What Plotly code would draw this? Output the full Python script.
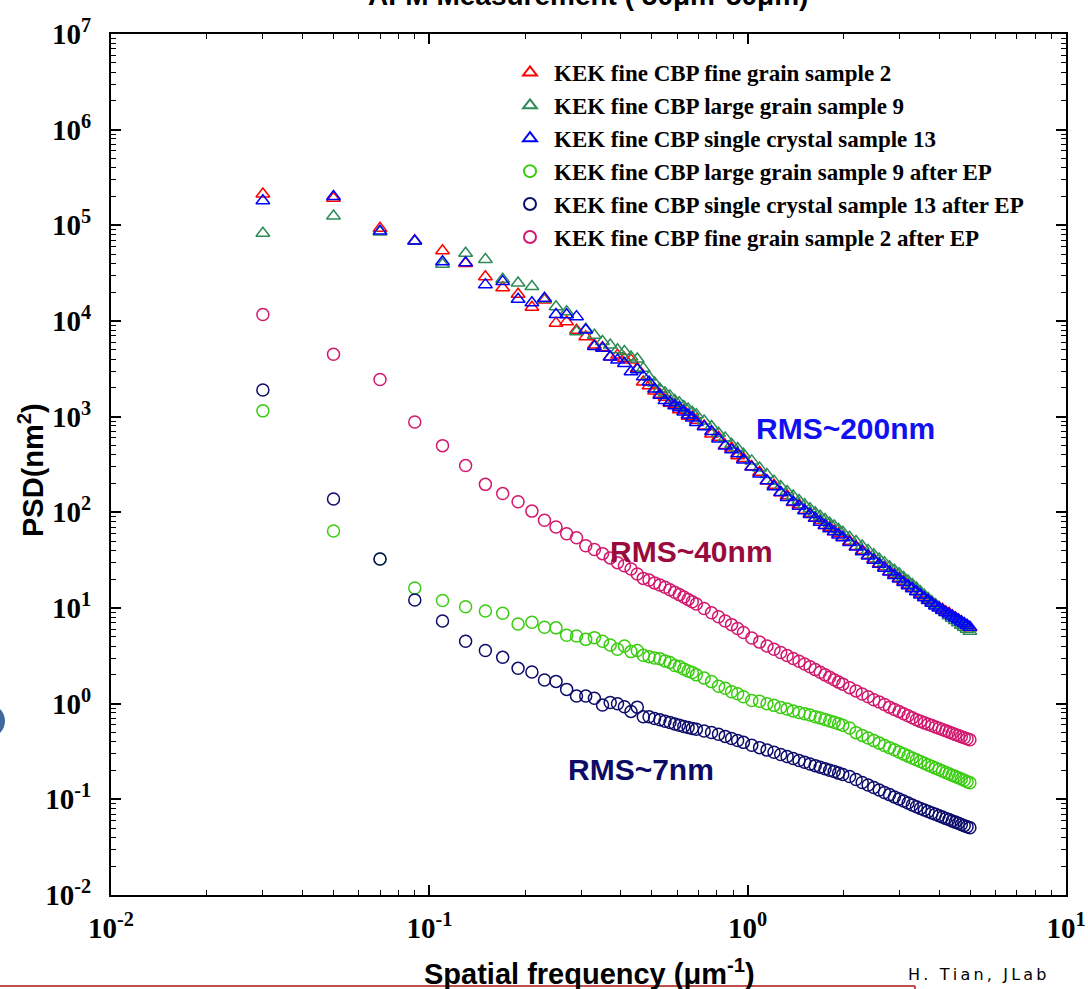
import plotly.graph_objects as go

# ---------------- data ----------------
freq = [0.03, 0.05, 0.07, 0.09, 0.11, 0.13, 0.15, 0.17, 0.19, 0.21, 0.23, 0.25,
        0.27, 0.29, 0.31, 0.33, 0.35, 0.37, 0.39, 0.41, 0.43, 0.45, 0.47, 0.49,
        0.51, 0.53, 0.55, 0.57, 0.59, 0.61, 0.63, 0.65, 0.67, 0.69,
        0.73, 0.77, 0.81, 0.85, 0.89, 0.93, 0.97,
        1.03, 1.09, 1.15, 1.21, 1.27, 1.33, 1.39, 1.45, 1.51, 1.57, 1.63, 1.69,
        1.75, 1.81, 1.87, 1.93, 1.99,
        2.09, 2.19, 2.29, 2.39, 2.49, 2.59, 2.69, 2.79, 2.89, 2.99, 3.09, 3.19,
        3.29, 3.39, 3.49, 3.59, 3.69, 3.79, 3.89, 3.99, 4.09, 4.19, 4.29, 4.39,
        4.49, 4.59, 4.69, 4.79, 4.89, 4.99]

fine_grain_2 = [213000, 192000, 93000, 69000, 54300, 40000, 29000, 22300, 19000, 13900, 16600, 9500,
                9800, 8000, 6850, 5600, 5300, 4200, 4400, 4070, 3900, 3200, 2300, 2100,
                1850, 1720, 1600, 1380, 1350, 1180, 1160, 1010, 1000, 920,
                800, 660, 610, 500, 470, 390, 365,
                300, 262, 212, 192, 160, 149, 127, 120, 105, 98, 87, 82,
                73, 70, 63, 60, 55,
                50, 44, 40, 35.5, 32.5, 29, 27, 24, 22.5, 20.5, 19, 17.5,
                16.4, 15.0, 14.1, 13.0, 12.3, 11.4, 10.8, 10.1, 9.7, 9.1, 8.8, 8.3,
                7.9, 7.5, 7.2, 6.8, 6.5, 6.2]

large_grain_9 = [82600, 125000, 85000, 68000, 39200, 51000, 44000, 27300, 25000, 22900, 17000, 14100,
                 12500, 7700, 8200, 7100, 6100, 5600, 5000, 4800, 4200, 4000, 3200, 2600,
                 2250, 1950, 1780, 1650, 1480, 1400, 1280, 1200, 1110, 1050,
                 900, 790, 670, 600, 515, 465, 405,
                 345, 290, 248, 212, 186, 165, 148, 133, 120, 109, 99, 91,
                 84, 77, 72, 66, 62,
                 55, 49.5, 44.5, 40, 36, 32.5, 29.8, 27, 24.8, 22.8, 20.8, 19.2,
                 17.6, 16.2, 14.8, 13.6, 12.6, 11.6, 10.8, 10.1, 9.4, 8.9, 8.3, 7.8,
                 7.4, 7.0, 6.6, 6.3, 6.0, 5.7]

single_crystal_13 = [181000, 200000, 87000, 68500, 41700, 40700, 24000, 25800, 16900, 15500, 17300, 11700,
                     11600, 11100, 8050, 5400, 5200, 4200, 3900, 3600, 2950, 3100, 2620, 2300,
                     1950, 1670, 1480, 1410, 1300, 1240, 1120, 1040, 968, 870,
                     783, 700, 585, 495, 450, 410, 353,
                     297, 251, 214, 185, 161, 143, 128, 116, 104, 94.8, 86.5, 79.0,
                     72.9, 67.4, 62.5, 58.1, 54.2,
                     48.4, 43.3, 38.8, 34.9, 31.5, 28.6, 26.1, 23.8, 21.8, 20.1, 18.5, 17.1,
                     15.9, 14.8, 13.7, 12.8, 12.0, 11.2, 10.5, 10.0, 9.5, 9.05, 8.63, 8.23,
                     7.87, 7.52, 7.2, 6.9, 6.6, 6.3]

large_grain_9_ep = [1150, 63.8, 32.5, 16.2, 12.0, 10.3, 9.3, 8.8, 6.8, 7.1, 6.3, 6.2,
                    5.2, 5.1, 4.7, 4.9, 4.5, 4.1, 3.7, 4.0, 3.5, 3.6, 3.2, 3.1,
                    3.0, 2.95, 2.8, 2.7, 2.5, 2.45, 2.3, 2.2, 2.12, 2.0,
                    1.85, 1.7, 1.52, 1.45, 1.33, 1.27, 1.18,
                    1.08, 1.06, 1.0, 0.96, 0.91, 0.88, 0.84, 0.81, 0.785, 0.76, 0.73, 0.71,
                    0.684, 0.66, 0.64, 0.617, 0.596,
                    0.556, 0.498, 0.466, 0.437, 0.411, 0.387, 0.366, 0.347, 0.329, 0.312, 0.297, 0.283,
                    0.27, 0.259, 0.248, 0.238, 0.229, 0.22, 0.212, 0.205, 0.198, 0.191, 0.185, 0.179,
                    0.173, 0.168, 0.163, 0.158, 0.153, 0.149]

single_crystal_13_ep = [1900, 138, 32.5, 12.1, 7.3, 4.5, 3.6, 3.05, 2.34, 2.14, 1.77, 1.71,
                        1.41, 1.2, 1.2, 1.14, 0.97, 1.03, 1.0, 0.93, 0.83, 0.92, 0.73, 0.73,
                        0.70, 0.68, 0.656, 0.634, 0.612, 0.594, 0.577, 0.563, 0.55, 0.54,
                        0.518, 0.50, 0.479, 0.455, 0.432, 0.412, 0.394,
                        0.368, 0.347, 0.327, 0.31, 0.294, 0.28, 0.267, 0.255, 0.244, 0.234, 0.225, 0.217,
                        0.209, 0.201, 0.195, 0.188, 0.182,
                        0.173, 0.161, 0.15, 0.141, 0.133, 0.125, 0.118, 0.112, 0.106, 0.101, 0.096, 0.0914,
                        0.0873, 0.0835, 0.0804, 0.0774, 0.0747, 0.0721, 0.0697, 0.0675, 0.0653, 0.0632, 0.0614, 0.0595,
                        0.0578, 0.0561, 0.0546, 0.0531, 0.0517, 0.0504]

fine_grain_2_ep = [11700, 4500, 2450, 880, 498, 308, 196, 157, 129, 103, 82.6, 70.3,
                   59.8, 54.3, 44.8, 40.8, 37.0, 33.4, 29.8, 27.7, 25.6, 22.7, 20.4, 19.6,
                   18.3, 17.4, 16.5, 15.5, 14.6, 13.8, 13.0, 12.3, 11.6, 11.0,
                   9.9, 8.9, 8.1, 7.3, 6.7, 6.1, 5.55,
                   4.85, 4.4, 4.0, 3.7, 3.42, 3.18, 2.96, 2.78, 2.6, 2.43, 2.27, 2.13,
                   2.0, 1.89, 1.78, 1.68, 1.6,
                   1.47, 1.36, 1.26, 1.18, 1.1, 1.04, 0.98, 0.92, 0.87, 0.83, 0.785, 0.746,
                   0.711, 0.679, 0.653, 0.63, 0.61, 0.59, 0.57, 0.553, 0.536, 0.52, 0.505, 0.49,
                   0.477, 0.464, 0.452, 0.44, 0.43, 0.42]

series = [
    ("KEK fine CBP fine grain sample 2", fine_grain_2, "triangle-up-open", "#ff0000"),
    ("KEK fine CBP large grain sample 9", large_grain_9, "triangle-up-open", "#2e8b57"),
    ("KEK fine CBP single crystal sample 13", single_crystal_13, "triangle-up-open", "#0000ff"),
    ("KEK fine CBP large grain sample 9 after EP", large_grain_9_ep, "circle-open", "#3acc10"),
    ("KEK fine CBP single crystal sample 13 after EP", single_crystal_13_ep, "circle-open", "#0c0c6a"),
    ("KEK fine CBP fine grain sample 2 after EP", fine_grain_2_ep, "circle-open", "#d2186e"),
]

for name, vals, sym, col in series:
    assert len(vals) == len(freq), (name, len(vals), len(freq))

x_tick_vals = [0.01, 0.1, 1, 10]
x_tick_text = ["10<sup>-2</sup>", "10<sup>-1</sup>", "10<sup>0</sup>", "10<sup>1</sup>"]
y_tick_vals = [1e-2, 1e-1, 1, 10, 1e2, 1e3, 1e4, 1e5, 1e6, 1e7]
y_tick_text = ["10<sup>-2</sup>", "10<sup>-1</sup>", "10<sup>0</sup>", "10<sup>1</sup>", "10<sup>2</sup>",
               "10<sup>3</sup>", "10<sup>4</sup>", "10<sup>5</sup>", "10<sup>6</sup>", "10<sup>7</sup>"]

# ---------------- figure ----------------
fig = go.Figure()
for name, vals, sym, col in series:
    fig.add_trace(go.Scatter(
        x=freq, y=vals, mode="markers", name=name,
        marker=dict(symbol=sym, size=12, color=col, line=dict(color=col, width=1.5)),
    ))

W, H = 1088, 989
L, R, T, B = 111, 22, 34, 94
PW, PH = W - L - R, H - T - B


def px(xpix):
    return (xpix - L) / PW


def py(ypix):
    return (H - B - ypix) / PH


minor_x = [m * 10 ** e for e in range(-2, 1) for m in range(2, 10)]
minor_y = [m * 10 ** e for e in range(-2, 7) for m in range(2, 10)]

serif = "Times New Roman, Liberation Serif, serif"
sans = "Arial, Liberation Sans, sans-serif"

axis_common = dict(
    type="log", showline=True, linecolor="black", linewidth=2, mirror="allticks",
    ticks="inside", ticklen=10, tickwidth=1.5, tickcolor="black",
    showgrid=False, zeroline=False, automargin=False,
    tickfont=dict(family=serif, size=29, color="black", weight="bold"),
)

fig.update_layout(
    width=W, height=H,
    margin=dict(l=L, r=R, t=T, b=B, autoexpand=False),
    paper_bgcolor="white", plot_bgcolor="white",
    showlegend=True,
    legend=dict(
        x=px(506), y=py(51), xanchor="left", yanchor="top",
        bgcolor="rgba(0,0,0,0)", borderwidth=0,
        font=dict(family=serif, size=23, color="black", weight="bold"),
        itemsizing="constant", itemwidth=38,
    ),
    xaxis=dict(range=[-2, 1], tickvals=x_tick_vals, ticktext=x_tick_text,
               ticklabelstandoff=6,
               minor=dict(tickvals=minor_x, ticks="inside", ticklen=5, tickwidth=1,
                          tickcolor="black", showgrid=False),
               **axis_common),
    yaxis=dict(range=[-2, 7], tickvals=y_tick_vals, ticktext=y_tick_text,
               ticklabelstandoff=12,
               minor=dict(tickvals=minor_y, ticks="inside", ticklen=5, tickwidth=1,
                          tickcolor="black", showgrid=False),
               **axis_common),
)

ts = "\u2009"
credit = ts.join(list("H. Tian, JLab"))

annos = [
    dict(text="<b>AFM Measurement ( 50μm*50μm)</b>", x=px(588), y=py(-4), size=28,
         color="black", family=sans, angle=0),
    dict(text="<b>PSD(nm<sup>2</sup>)</b>", x=px(31), y=py(470), size=29,
         color="black", family=sans, angle=-90),
    dict(text="<b>Spatial frequency (μm<sup>-1</sup>)</b>", x=px(589), y=py(972), size=29,
         color="black", family=sans, angle=0),
    dict(text="<b>RMS~200nm</b>", x=px(845), y=py(428), size=30,
         color="#1010f0", family=sans, angle=0),
    dict(text="<b>RMS~40nm</b>", x=px(691), y=py(551), size=30,
         color="#990b3c", family=sans, angle=0),
    dict(text="<b>RMS~7nm</b>", x=px(641), y=py(769), size=30,
         color="#0c0c66", family=sans, angle=0),
    dict(text=credit, x=px(977), y=py(975), size=16,
         color="black", family="DejaVu Sans, sans-serif", angle=0),
]
for a in annos:
    fig.add_annotation(text=a["text"], x=a["x"], y=a["y"], xref="paper", yref="paper",
                       xanchor="center", yanchor="middle", showarrow=False,
                       textangle=a["angle"],
                       font=dict(family=a["family"], size=a["size"], color=a["color"]))

# slide decorations: red frame edge and partial blue disc at the left edge
fig.add_shape(type="line", xref="paper", yref="paper",
              x0=px(0), x1=px(915), y0=py(986), y1=py(986),
              line=dict(color="#c0504d", width=2))
fig.add_shape(type="line", xref="paper", yref="paper",
              x0=px(915), x1=px(915), y0=py(986), y1=py(995),
              line=dict(color="#c0504d", width=2))
fig.add_shape(type="circle", xref="paper", yref="paper",
              x0=px(-29), x1=px(5), y0=py(738), y1=py(704),
              fillcolor="#41689e", line=dict(color="#41689e", width=0))

fig.write_html("out.html")
